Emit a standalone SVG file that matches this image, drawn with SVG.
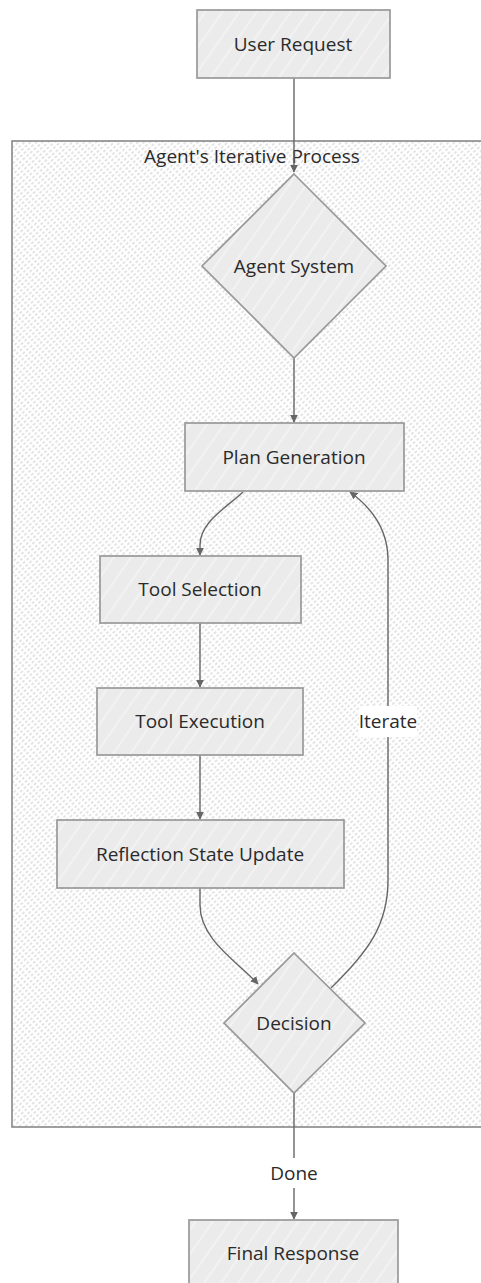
<svg xmlns="http://www.w3.org/2000/svg" width="481" height="1283" viewBox="0 0 481 1283">
  <style>
    .lbl { font-family: "Open Sans", "Noto Sans", "Liberation Sans", sans-serif; font-size: 19px; font-weight: 500; fill: #2a2a2a; text-anchor: middle; dominant-baseline: central; }
    .box { fill: url(#nodeHatch); stroke: #999; stroke-width: 1.7; }
    .edge { fill: none; stroke: #666; stroke-width: 1.4; }
    .tag { fill: #fff; stroke: none; }
  </style>
  <defs>
    <pattern id="clusterHatch" width="5" height="4" patternUnits="userSpaceOnUse" patternTransform="rotate(-42)">
      <rect width="5" height="4" fill="#fff"/>
      <line x1="0" y1="2" x2="3" y2="2" stroke="#c4c4c4" stroke-width="0.9"/>
    </pattern>
    <pattern id="nodeHatch" width="14" height="14" patternUnits="userSpaceOnUse" patternTransform="rotate(-55)">
      <rect width="14" height="14" fill="#ebebeb"/>
      <line x1="0" y1="7" x2="14" y2="7" stroke="#fbfbfb" stroke-width="0.9"/>
    </pattern>
    <marker id="arrow" viewBox="0 0 10 10" refX="9" refY="5" markerWidth="8" markerHeight="8" markerUnits="userSpaceOnUse" orient="auto">
      <path d="M0,0 L10,5 L0,10 z" fill="#666"/>
    </marker>
  </defs>

  <!-- cluster: iterative loop -->
  <g id="cluster-agent-loop">
    <rect x="12" y="141" width="475" height="986" fill="url(#clusterHatch)" stroke="#888" stroke-width="1.6"/>
    <text class="lbl" x="252" y="156">Agent's Iterative Process</text>
  </g>

  <!-- connectors -->
  <g id="connectors">
    <path class="edge" d="M294,78 L294,172" marker-end="url(#arrow)"/>
    <path class="edge" d="M294,358 L294,422" marker-end="url(#arrow)"/>
    <path class="edge" d="M243,492 C226,508 200,522 200,545 L200,555" marker-end="url(#arrow)"/>
    <path class="edge" d="M200,623 L200,687" marker-end="url(#arrow)"/>
    <path class="edge" d="M200,755 L200,819" marker-end="url(#arrow)"/>
    <path class="edge" d="M200,888 L200,905 C200,940 238,962 258,984" marker-end="url(#arrow)"/>
    <path class="edge" d="M331,988 C368,952 388,925 388,880 L388,560 C388,530 372,508 350,492" marker-end="url(#arrow)"/>
    <path class="edge" d="M294,1093 L294,1219" marker-end="url(#arrow)"/>
    <rect class="tag" x="359" y="706" width="58" height="31"/>
    <text class="lbl" x="388" y="721">Iterate</text>
    <rect class="tag" x="271" y="1158" width="47" height="30"/>
    <text class="lbl" x="294" y="1173">Done</text>
  </g>

  <g id="user-request">
    <rect class="box" x="197" y="10" width="193" height="68"/>
    <text class="lbl" x="293" y="44">User Request</text>
  </g>
  <g id="agent-system">
    <polygon class="box" points="294,174 386,266 294,358 202,266"/>
    <text class="lbl" x="294" y="266">Agent System</text>
  </g>
  <g id="plan-generation">
    <rect class="box" x="185" y="423" width="219" height="68"/>
    <text class="lbl" x="294" y="457">Plan Generation</text>
  </g>
  <g id="tool-selection">
    <rect class="box" x="100" y="556" width="201" height="67"/>
    <text class="lbl" x="200" y="589">Tool Selection</text>
  </g>
  <g id="tool-execution">
    <rect class="box" x="97" y="688" width="206" height="67"/>
    <text class="lbl" x="200" y="721">Tool Execution</text>
  </g>
  <g id="reflection-state-update">
    <rect class="box" x="57" y="820" width="287" height="68"/>
    <text class="lbl" x="200" y="854">Reflection State Update</text>
  </g>
  <g id="decision">
    <polygon class="box" points="294,953 365,1023 294,1093 224,1023"/>
    <text class="lbl" x="294" y="1023">Decision</text>
  </g>
  <g id="final-response">
    <rect class="box" x="189" y="1220" width="209" height="68"/>
    <text class="lbl" x="293" y="1253">Final Response</text>
  </g>
</svg>
